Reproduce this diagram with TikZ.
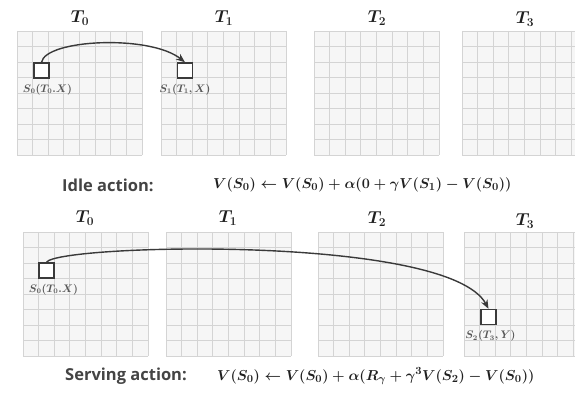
\documentclass[tikz,border=0pt]{standalone}
\usepackage{fontspec}
\usepackage{amsmath,bm}
\usetikzlibrary{arrows.meta, positioning, calc}
\newfontfamily\actionfont{Open Sans}
\definecolor{gridline}{HTML}{D4D4D4}
\definecolor{gridfill}{HTML}{F6F6F6}
\definecolor{inkgray}{HTML}{3A3A3A}
\definecolor{mathink}{HTML}{202020}

\begin{document}
\begin{tikzpicture}[x=1pt, y=-1pt,
    statebox/.style={draw=inkgray, line width=1.4pt, fill=white, minimum size=15pt, inner sep=0pt},
    statelbl/.style={text=inkgray!85, font=\fontsize{10.5}{12}\selectfont\boldmath, inner sep=1pt},
    steptitle/.style={text=mathink, font=\fontsize{17.5}{19}\selectfont\boldmath},
    actionlbl/.style={text=inkgray!95, font=\actionfont\bfseries\fontsize{16.5}{18}\selectfont, anchor=west, inner sep=0pt},
    update/.style={text=mathink, font=\fontsize{15}{17}\selectfont\boldmath, anchor=west, inner sep=0pt},
    jump/.style={draw=inkgray, line width=1.4pt, -{Stealth[length=9pt, width=7pt]}}]

  \useasboundingbox (0,0) rectangle (575,393);
  \clip (0,0) rectangle (575,393);

  % time-step grids
  \foreach \gx/\gy in {17/31, 161/31, 314/31, 462/31, 23/232, 166/232, 318/232, 464/232} {
    \fill[gridfill] (\gx,\gy) rectangle ++(125,124);
    \foreach \i in {0,...,8} {
      \draw[gridline, line width=0.8pt] ({\gx+\i*15.625},\gy) -- ++(0,124);
      \draw[gridline, line width=0.8pt] (\gx,{\gy+\i*15.5}) -- ++(125,0);
    }
  }

  % titles
  \node[steptitle] (ta0) at (80,18) {$\bm{T_0}$};
  \node[steptitle] (ta1) at (224,18) {$\bm{T_1}$};
  \node[steptitle] (ta2) at (377,18) {$\bm{T_2}$};
  \node[steptitle] (ta3) at (525,19) {$\bm{T_3}$};
  \node[steptitle] (tb0) at (85,218) {$\bm{T_0}$};
  \node[steptitle] (tb1) at (228,218) {$\bm{T_1}$};
  \node[steptitle] (tb2) at (377,219) {$\bm{T_2}$};
  \node[steptitle] (tb3) at (525,221) {$\bm{T_3}$};

  % idle action
  \node[statebox] (sa0) at (41.5,70.5) {};
  \node[statebox] (sa1) at (185,70.5) {};
  \node[statelbl, below=4pt of sa0, xshift=6pt] (la0) {$\bm{S_0(T_0.X)}$};
  \node[statelbl, below=4pt of sa1] (la1) {$\bm{S_1(T_1,X)}$};
  \draw[jump] (sa0.north) .. controls +(4,-23) and +(-35,-28) .. (sa1.north);

  \node[actionlbl] (idle) at (62,185) {Idle action:};
  \node[update] (idleupd) at (213,185)
    {$\bm{V(S_0) \leftarrow V(S_0) + \alpha(0 + \gamma V(S_1) - V(S_0))}$};

  % serving action
  \node[statebox] (sb0) at (46.5,270.5) {};
  \node[statebox] (sb2) at (488.5,317) {};
  \node[statelbl, below=4pt of sb0, xshift=7pt] (lb0) {$\bm{S_0(T_0.X)}$};
  \node[statelbl, below=4pt of sb2, xshift=2pt] (lb2) {$\bm{S_2(T_3,Y)}$};
  \draw[jump] (sb0.north) .. controls +(10,-18) and +(-40,-75) .. (sb2.north);

  \node[actionlbl] (serve) at (65,376) {Serving action:};
  \node[update] (serveupd) at (217,376)
    {$\bm{V(S_0) \leftarrow V(S_0) + \alpha(R_\gamma + \gamma^3 V(S_2) - V(S_0))}$};
\end{tikzpicture}
\end{document}
